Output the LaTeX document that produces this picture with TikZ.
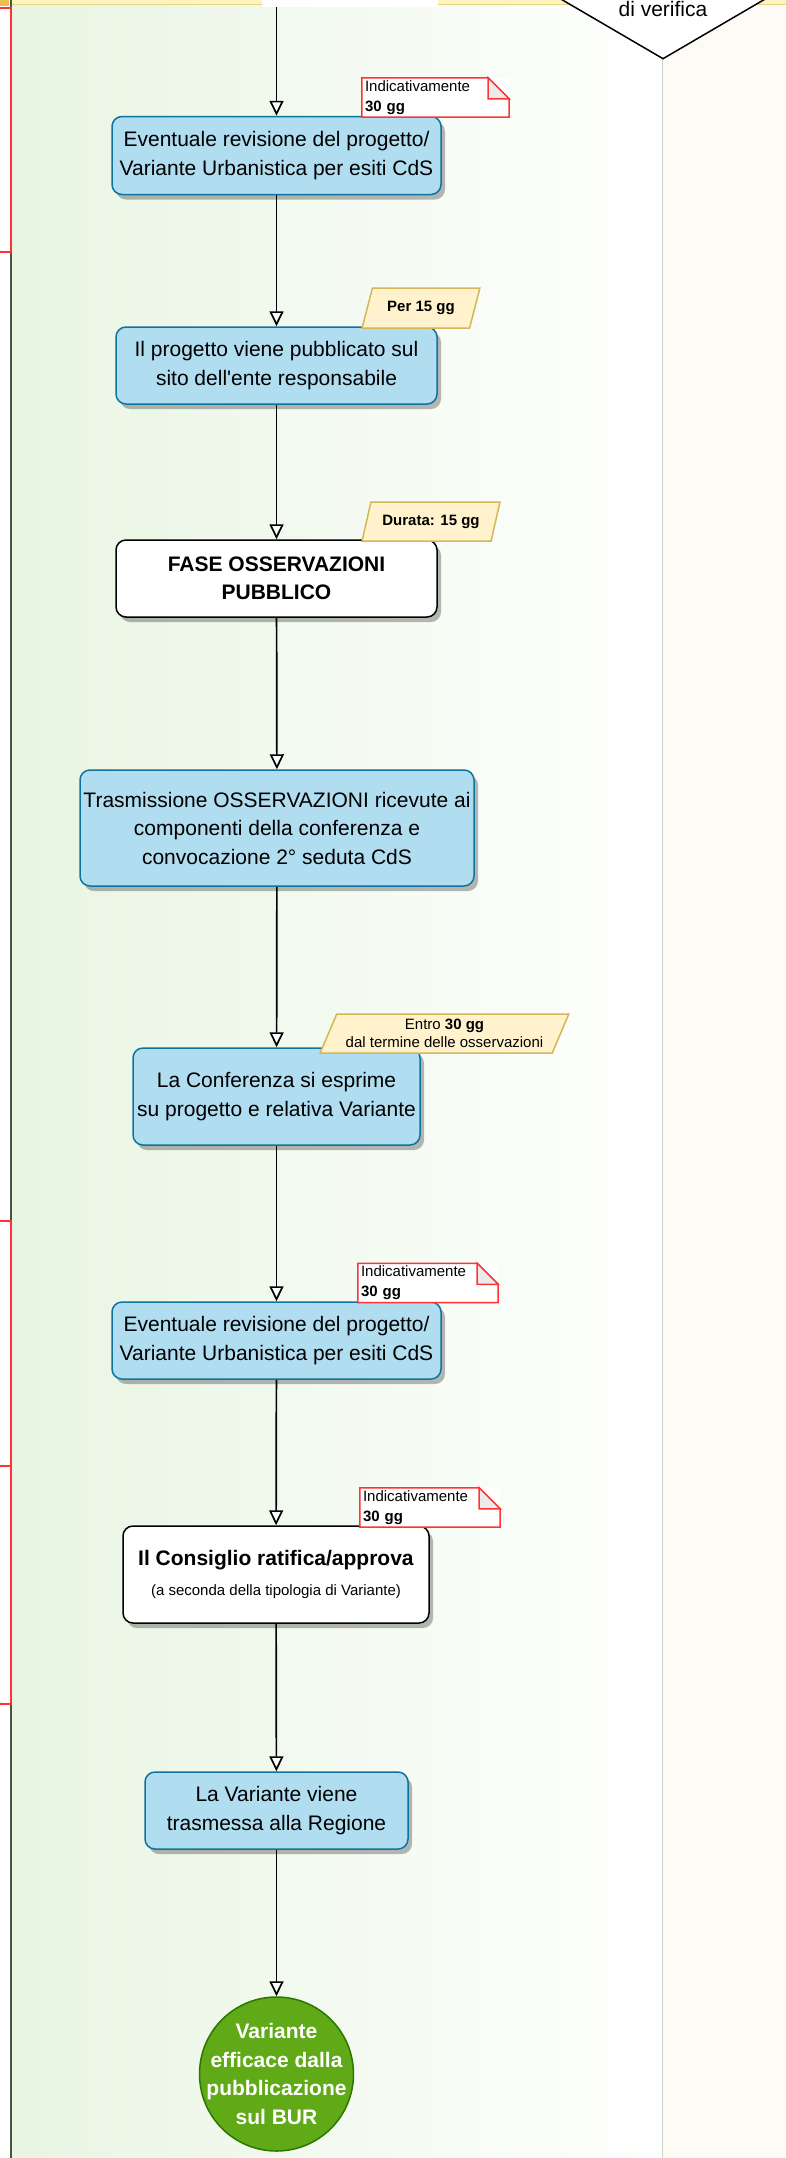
\documentclass[tikz,border=0pt]{standalone}
\usepackage{fontspec}
\setmainfont{Liberation Sans}[Ligatures=TeXOff]
\usetikzlibrary{arrows.meta, shapes.geometric, shadows}

\definecolor{blufill}{HTML}{B1DDF0}
\definecolor{bluedge}{HTML}{10739E}
\definecolor{giallofill}{HTML}{FFF2CC}
\definecolor{gialloedge}{HTML}{D6B656}
\definecolor{verdeok}{HTML}{60A917}
\definecolor{verdeedge}{HTML}{2D7600}
\definecolor{rosso}{HTML}{FF3333}
\definecolor{corsia}{RGB}{232,245,226}
\definecolor{corsiabordo}{RGB}{70,85,70}
\definecolor{corsiadestra}{RGB}{200,215,195}
\definecolor{fondodestro}{RGB}{254,250,246}
\definecolor{piega}{RGB}{235,235,235}
\definecolor{testata}{RGB}{255,244,190}
\definecolor{testatabordo}{RGB}{230,212,130}
\definecolor{angolo}{RGB}{240,190,80}

\newcommand{\grande}{\fontsize{21}{28.5}\selectfont}
\newcommand{\piccolo}{\fontsize{15}{18}\selectfont}

\begin{document}
\begin{tikzpicture}[x=1pt, y=-1pt,
        blu/.style={draw=bluedge, fill=blufill, line width=1.5pt, rounded corners=10pt, align=center, inner sep=0pt, font=\grande,
            drop shadow={shadow xshift=4pt, shadow yshift=-5pt, fill=black, opacity=0.28}},
        bianco/.style={blu, draw=black, fill=white},
        nota/.style={fill=white, minimum height=39pt, inner xsep=3pt, inner ysep=1pt, text width=134pt, align=left, font=\fontsize{15}{20}\selectfont},
        durata/.style={trapezium, trapezium left angle=62, trapezium right angle=118, trapezium stretches=true, draw=gialloedge, fill=giallofill,
            line width=1.5pt, inner sep=0pt, minimum height=39pt, align=center, font=\piccolo\bfseries},
        fine/.style={circle, draw=verdeedge, fill=verdeok, line width=1.5pt, minimum size=154pt, inner sep=-16pt, align=center, text=white, font=\grande\bfseries},
        freccia/.style={-{Triangle[fill=white, length=15pt, width=14pt]}, line width=1.7pt}]

        \useasboundingbox (0, 0) rectangle (786, 2158);
        \fill [white] (0, 0) rectangle (786, 2158);
        \shade [left color=corsia, right color=white] (11, 0) rectangle (662, 2158);
        \fill [fondodestro] (662, 0) rectangle (786, 2158);
        \fill [testata] (11, -5) rectangle (786, 4);
        \draw [testatabordo] (11, 4) -- (786, 4);
        \fill [angolo] (0, -5) rectangle (9, 6);
        \draw [corsiabordo, line width=2pt] (11, -5) -- (11, 2165);
        \draw [corsiadestra, line width=1pt] (662, 0) -- (662, 2165);
        \foreach \a/\b in {8/252, 1221/1466, 1466/1704}
            \draw [rosso, line width=2pt, fill=white] (-10, \a) rectangle (11, \b);

        \node [diamond, draw, fill=white, line width=1.5pt, minimum width=217pt, minimum height=127pt, inner sep=0pt] (verifica) at (663, -4.5) {};
        \node [anchor=base, font=\grande] (verificatesto) at (663, 16.5) {di verifica};
        \node [fill=white, minimum width=176pt, minimum height=27pt, inner sep=0pt] (precedente) at (350, -6.5) {};
        \coordinate (inizio) at (276.5, 7);

        \node [blu, minimum width=329pt, minimum height=78pt] (revisione1) at (276.5, 155.5) {Eventuale revisione del progetto/\\Variante Urbanistica per esiti CdS};
        \node [blu, minimum width=321pt, minimum height=77pt] (pubblicazione) at (276.5, 365.5) {Il progetto viene pubblicato sul\\sito dell'ente responsabile};
        \node [bianco, minimum width=321pt, minimum height=77pt, font=\grande\bfseries] (osservazioni) at (276.5, 578.5) {FASE OSSERVAZIONI\\PUBBLICO};
        \node [blu, minimum width=394pt, minimum height=116pt] (trasmissione) at (277, 828) {Trasmissione OSSERVAZIONI ricevute ai\\componenti della conferenza e\\convocazione 2° seduta CdS};
        \node [blu, minimum width=287pt, minimum height=97pt] (conferenza) at (276.5, 1096.5) {La Conferenza si esprime\\su progetto e relativa Variante};
        \node [blu, minimum width=329pt, minimum height=77pt] (revisione2) at (276.5, 1340.5) {Eventuale revisione del progetto/\\Variante Urbanistica per esiti CdS};
        \node [bianco, minimum width=306pt, minimum height=97pt] (consiglio) at (276, 1574.5) {\textbf{Il Consiglio ratifica/approva}\\[1.5pt]{\piccolo (a seconda della tipologia di Variante)}};
        \node [blu, minimum width=263pt, minimum height=77pt] (regione) at (276.5, 1810.5) {La Variante viene\\trasmessa alla Regione};
        \node [fine] (bur) at (276.5, 2074) {Variante\\efficace dalla\\pubblicazione\\sul BUR};

        \node [nota, text width=141pt] (nota1) at (435.5, 97.5) {Indicativamente\\\textbf{30 gg}};
        \node [nota] (nota2) at (428, 1283) {Indicativamente\\\textbf{30 gg}};
        \node [nota] (nota3) at (430, 1507.5) {Indicativamente\\\textbf{30 gg}};
        \foreach \n in {nota1, nota2, nota3} {
            \draw [rosso, line width=1.5pt] (\n.south west) -- (\n.north west) -- ([xshift=-21pt]\n.north east) -- ([yshift=-21pt]\n.north east) -- (\n.south east) -- cycle;
            \filldraw [rosso, fill=piega, line width=1.5pt] ([xshift=-21pt]\n.north east) -- ([xshift=-21pt, yshift=-21pt]\n.north east) -- ([yshift=-21pt]\n.north east) -- cycle;
        }

        \node [durata, minimum width=118pt, minimum height=40pt] (durata1) at (421, 308) {Per 15 gg};
        \node [durata, minimum width=138pt] (durata2) at (431, 521.5) {Durata: 15 gg};
        \node [durata, minimum width=249pt, font=\piccolo] (durata3) at (444.5, 1033.5) {Entro \textbf{30 gg}\\dal termine delle osservazioni};

        \draw (inizio) edge[freccia] (revisione1);
        \draw (revisione1) edge[freccia] (pubblicazione);
        \draw (pubblicazione) edge[freccia] (osservazioni);
        \draw (osservazioni) edge[freccia] (trasmissione);
        \draw (trasmissione) edge[freccia] (conferenza);
        \draw (conferenza) edge[freccia] (revisione2);
        \draw (revisione2) edge[freccia] (consiglio);
        \draw (consiglio) edge[freccia] (regione);
        \draw (regione) edge[freccia] (bur);

    \end{tikzpicture}
\end{document}
